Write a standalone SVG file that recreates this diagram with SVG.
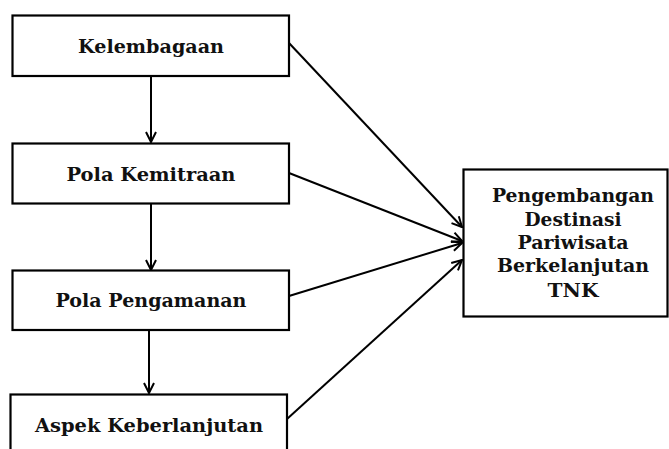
<svg xmlns="http://www.w3.org/2000/svg" width="669" height="449" viewBox="0 0 669 449">
<defs>
<style>
.box{fill:#fff;stroke:#000;stroke-width:2.2}
text{font-family:'DejaVu Serif',serif;font-weight:bold;fill:#111;text-anchor:middle}
.t{font-size:19px}
.t2{font-size:18px}
.c{fill:none;stroke:#000;stroke-width:2}
</style>
<marker id="ah" viewBox="0 0 12 12" refX="11" refY="6" markerWidth="12" markerHeight="12" markerUnits="userSpaceOnUse" orient="auto">
<path d="M1,1 L11,6 L1,11" fill="none" stroke="#000" stroke-width="2"/>
</marker>
</defs>
<rect width="669" height="449" fill="#fff"/>
<g id="connectors">
<line class="c" x1="151" y1="76" x2="151" y2="142" marker-end="url(#ah)"/>
<line class="c" x1="151" y1="204" x2="151" y2="270" marker-end="url(#ah)"/>
<line class="c" x1="149" y1="330" x2="149" y2="393" marker-end="url(#ah)"/>
<line class="c" x1="289" y1="43" x2="462" y2="227" marker-end="url(#ah)"/>
<line class="c" x1="289" y1="173" x2="462" y2="241" marker-end="url(#ah)"/>
<line class="c" x1="289" y1="296" x2="462" y2="243" marker-end="url(#ah)"/>
<line class="c" x1="287" y1="419" x2="462" y2="260" marker-end="url(#ah)"/>
</g>
<g id="kelembagaan">
<rect class="box" x="12.5" y="15.5" width="276.5" height="60.5"/>
<text class="t" x="151" y="53" textLength="146" lengthAdjust="spacingAndGlyphs">Kelembagaan</text>
</g>
<g id="pola-kemitraan">
<rect class="box" x="12.5" y="143.5" width="276.5" height="60"/>
<text class="t" x="151" y="181" textLength="169" lengthAdjust="spacingAndGlyphs">Pola Kemitraan</text>
</g>
<g id="pola-pengamanan">
<rect class="box" x="12.5" y="270.5" width="276.5" height="59.5"/>
<text class="t" x="151" y="307" textLength="191" lengthAdjust="spacingAndGlyphs">Pola Pengamanan</text>
</g>
<g id="aspek-keberlanjutan">
<rect class="box" x="10.5" y="394.5" width="276.5" height="70"/>
<text class="t" x="149" y="432" textLength="228" lengthAdjust="spacingAndGlyphs">Aspek Keberlanjutan</text>
</g>
<g id="pengembangan">
<rect class="box" x="463.5" y="169.5" width="204" height="147"/>
<text class="t2" x="573" y="202" textLength="162" lengthAdjust="spacingAndGlyphs">Pengembangan</text>
<text class="t2" x="573" y="226" textLength="97" lengthAdjust="spacingAndGlyphs">Destinasi</text>
<text class="t2" x="573" y="249" textLength="111" lengthAdjust="spacingAndGlyphs">Pariwisata</text>
<text class="t2" x="573" y="272" textLength="152" lengthAdjust="spacingAndGlyphs">Berkelanjutan</text>
<text class="t2" x="573" y="297" textLength="51" lengthAdjust="spacingAndGlyphs">TNK</text>
</g>
</svg>
